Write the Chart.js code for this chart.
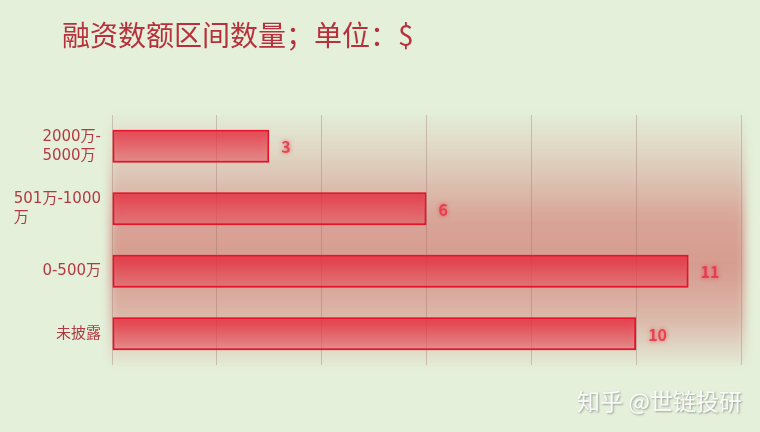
<!DOCTYPE html>
<html>
<head>
<meta charset="utf-8">
<script src="https://cdn.jsdelivr.net/npm/chart.js@4.4.1/dist/chart.umd.min.js"></script>
<style>
  html, body { margin: 0; padding: 0; background: #e4f0da; }
  #wrap { width: 760px; height: 432px; position: relative; }
</style>
</head>
<body>
<div id="wrap"><canvas id="c" width="760" height="432"></canvas></div>
<script>
// 数据
const categories = [["2000万-", "5000万"], ["501万-1000", "万"], ["0-500万"], ["未披露"]]
const counts = [3, 6, 11, 10]
const xTicks = [0, 2, 4, 6, 8, 10, 12]

const titleText = "融资数额区间数量；单位：$"
const watermark = "知乎 @世链投研"
const FONT = "'Noto Sans CJK SC', 'Noto Sans', sans-serif"
const LABEL_FONT = "'DejaVu Sans', 'Noto Sans CJK SC', sans-serif"

// 背景红色光晕 + 标题 + 水印
const decorPlugin = {
  id: "decor",
  beforeDraw(chart) {
    const { ctx, chartArea: a } = chart
    ctx.save()
    ctx.fillStyle = "#e4f0da"
    ctx.fillRect(0, 0, chart.width, chart.height)
    const g = ctx.createLinearGradient(0, a.top, 0, a.bottom)
    g.addColorStop(0, "rgba(200,60,60,0.02)")
    g.addColorStop(0.15, "rgba(200,60,60,0.14)")
    g.addColorStop(0.42, "rgba(200,60,60,0.42)")
    g.addColorStop(0.6, "rgba(200,60,60,0.47)")
    g.addColorStop(0.82, "rgba(200,60,60,0.3)")
    g.addColorStop(1, "rgba(200,60,60,0.03)")
    ctx.fillStyle = g
    ctx.filter = "blur(4px)"
    ctx.fillRect(a.left - 2, a.top, a.right - a.left + 6, a.bottom - a.top)
    ctx.filter = "none"

    // 标题
    ctx.font = "28px " + FONT
    ctx.fillStyle = "#b8303b"
    ctx.textBaseline = "middle"
    ctx.textAlign = "left"
    ctx.fillText(titleText, 62, 35)
    ctx.restore()
  },
  afterDraw(chart) {
    const { ctx } = chart
    const yScale = chart.scales.y
    ctx.save()
    // y 轴标签：块右对齐，行内左对齐
    ctx.font = "15px " + LABEL_FONT
    ctx.fillStyle = "#b33a42"
    ctx.textBaseline = "middle"
    ctx.textAlign = "left"
    categories.forEach((lines, i) => {
      const yc = yScale.getPixelForTick(i)
      const w = Math.max(...lines.map((l) => ctx.measureText(l).width))
      const x0 = 101 - w
      const lh = 19
      lines.forEach((l, j) => {
        ctx.fillText(l, x0, yc + (j - (lines.length - 1) / 2) * lh)
      })
    })

    // 数值标签
    const meta = chart.getDatasetMeta(0)
    ctx.font = "bold 16px " + FONT
    ctx.shadowColor = "rgba(235,40,60,0.8)"
    ctx.shadowBlur = 4
    ctx.fillStyle = "rgba(232,50,70,0.85)"
    meta.data.forEach((bar, i) => {
      ctx.fillText(String(counts[i]), bar.x + 12, bar.y + 1)
    })

    // 水印
    ctx.shadowColor = "rgba(90,90,90,0.6)"
    ctx.shadowBlur = 2
    ctx.shadowOffsetX = 1
    ctx.shadowOffsetY = 1
    ctx.font = "23px " + FONT
    ctx.fillStyle = "rgba(255,255,255,0.92)"
    ctx.textAlign = "right"
    ctx.fillText(watermark, 742, 401)
    ctx.restore()
  },
}

// 柱子发光
const glowPlugin = {
  id: "glow",
  beforeDatasetsDraw(chart) {
    chart.ctx.save()
    chart.ctx.shadowColor = "rgba(235,30,50,0.55)"
    chart.ctx.shadowBlur = 8
  },
  afterDatasetsDraw(chart) {
    chart.ctx.restore()
  },
}

function barFill(context) {
  const chart = context.chart
  const yScale = chart.scales.y
  if (!chart.chartArea || !yScale) return "rgba(225,60,70,0.7)"
  const yc = yScale.getPixelForValue(context.dataIndex)
  if (!Number.isFinite(yc)) return "rgba(225,60,70,0.7)"
  const h = yScale.height / categories.length * 0.53
  const g = chart.ctx.createLinearGradient(0, yc - h / 2, 0, yc + h / 2)
  g.addColorStop(0, "rgba(228,40,58,0.76)")
  g.addColorStop(1, "rgba(228,90,100,0.38)")
  return g
}

new Chart(document.getElementById("c"), {
  type: "bar",
  data: {
    labels: categories,
    datasets: [
      {
        data: counts,
        backgroundColor: barFill,
        borderColor: "#e4122c",
        borderWidth: 2,
        borderSkipped: false,
        categoryPercentage: 1,
        barPercentage: 0.53,
      },
    ],
  },
  options: {
    indexAxis: "y",
    responsive: false,
    animation: false,
    devicePixelRatio: 1,
    layout: { padding: { left: 112, right: 19, top: 115, bottom: 67 } },
    plugins: {
      legend: { display: false },
      tooltip: { enabled: false },
      title: { display: false },
    },
    scales: {
      x: {
        min: xTicks[0],
        max: xTicks[xTicks.length - 1],
        afterBuildTicks: (axis) => {
          axis.ticks = xTicks.map((v) => ({ value: v }))
        },
        ticks: { display: false },
        grid: { color: "rgba(150,110,100,0.35)", lineWidth: 1, drawTicks: false },
        border: { display: false },
      },
      y: {
        ticks: { display: false },
        grid: { display: false, drawTicks: false },
        border: { display: false },
      },
    },
  },
  plugins: [decorPlugin, glowPlugin],
})
</script>
</body>
</html>
